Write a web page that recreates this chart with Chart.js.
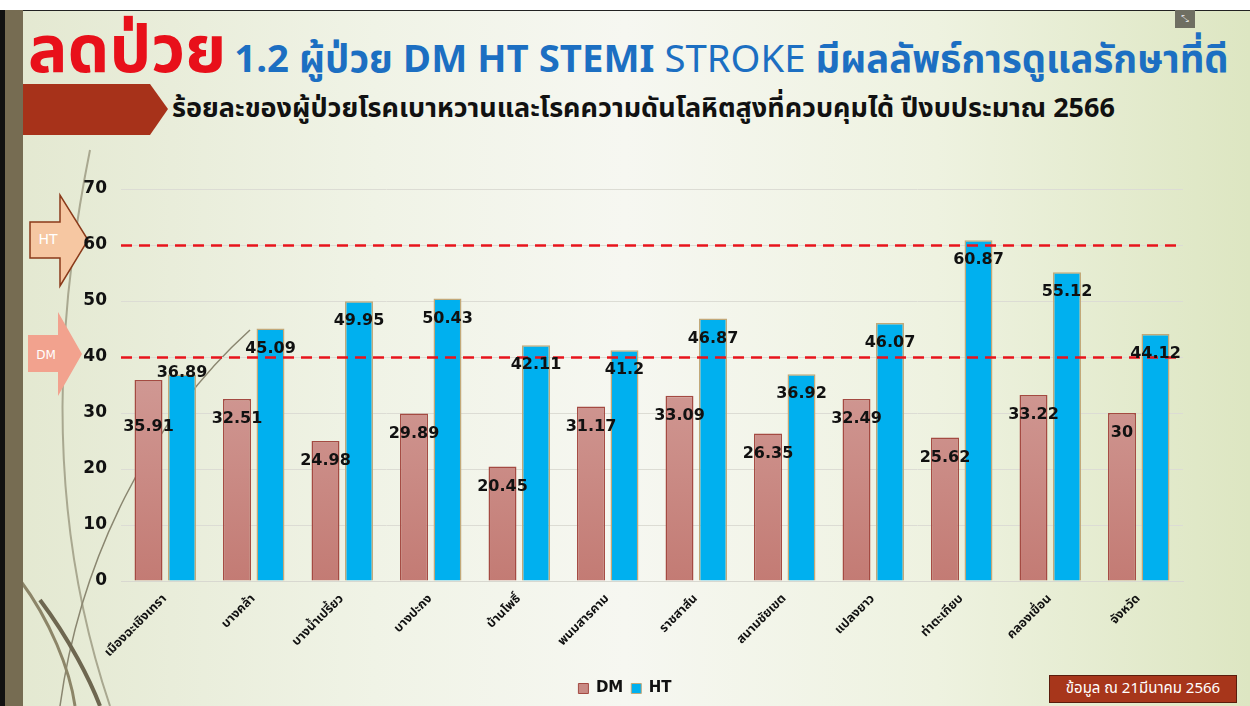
<!DOCTYPE html>
<html>
<head>
<meta charset="utf-8">
<script src="https://cdn.jsdelivr.net/npm/chart.js@4.4.1/dist/chart.umd.min.js"></script>
<style>
  html,body{margin:0;padding:0;}
  body{width:1250px;height:706px;position:relative;overflow:hidden;background:#fff;
       font-family:"Noto Sans Thai","Loma","Garuda","Tlwg Typo","Noto Sans","DejaVu Sans",sans-serif;}
  #slide{position:absolute;left:0;top:10px;width:1250px;height:696px;
    background:linear-gradient(to right,#e3e8d0 0%,#f0f3e6 30%,#f6f7f1 50%,#eef2e0 75%,#dde6c2 100%);
    border-top:1px solid #222;}
  #blk{position:absolute;left:0;top:10px;width:5px;height:696px;background:#111;}
  #strip{position:absolute;left:5px;top:10px;width:18px;height:696px;background:#766c52;}
  #title{position:absolute;left:28px;top:2px;white-space:nowrap;}
  #title .big{color:#e8101a;font-weight:bold;font-size:66px;}
  #title .rest{color:#1c6fc2;font-weight:bold;font-size:38.3px;margin-left:8px;}
  #title .thin{font-weight:normal;}
  #sub{position:absolute;left:172px;top:88px;font-size:27px;font-weight:bold;color:#111;white-space:nowrap;}
  #foot{position:absolute;left:1049px;top:675px;width:186px;height:26px;background:#a7361b;border:1px solid #5a1c0c;
        color:#fff;font-size:15px;line-height:26px;text-align:center;white-space:nowrap;}
  #icon{position:absolute;left:1175px;top:10px;width:20px;height:18px;background:#6f6f62;color:#ddd;font-size:10px;text-align:center;line-height:18px;}
  #chart{position:absolute;left:0;top:0;}
  svg.deco{position:absolute;left:0;top:0;}
</style>
</head>
<body>
<div id="slide"></div>
<svg class="deco" width="1250" height="706">
  <path d="M 90 150 C 60 300, 40 500, 110 706" stroke="#a9a890" stroke-width="2" fill="none"/>
  <path d="M 250 330 C 150 420, 80 560, 60 706" stroke="#8a8670" stroke-width="1.5" fill="none"/>
  <path d="M 40 600 C 70 640, 90 680, 100 706" stroke="#6e6750" stroke-width="4" fill="none"/>
  <path d="M 20 580 C 50 620, 70 670, 75 706" stroke="#8c8568" stroke-width="3" fill="none"/>
  <polygon points="5,84 150,84 168,109 150,135 5,135" fill="#a7321a"/>
  <polygon points="30,222 60,222 60,195 88,240 60,286 60,258 30,258" fill="#f6c7a2" stroke="#8a3a1a" stroke-width="1.5"/>
  <text x="48" y="244" font-size="14" fill="#fff" text-anchor="middle" font-family="DejaVu Sans">HT</text>
  <polygon points="28,335 58,335 58,312 82,354 58,396 58,372 28,372" fill="#f2a28e"/>
  <text x="46" y="359" font-size="12" fill="#fff" text-anchor="middle" font-family="DejaVu Sans">DM</text>
</svg>
<div id="blk"></div>
<div id="strip"></div>
<div id="icon">⤡</div>
<div id="title"><span class="big">ลดป่วย</span><span class="rest">1.2 ผู้ป่วย DM HT STEMI <span class="thin">STROKE</span> มีผลลัพธ์การดูแลรักษาที่ดี</span></div>
<div id="sub">ร้อยละของผู้ป่วยโรคเบาหวานและโรคความดันโลหิตสูงที่ควบคุมได้ ปีงบประมาณ 2566</div>
<div id="foot">ข้อมูล ณ 21มีนาคม 2566</div>
<canvas id="chart" width="1250" height="706"></canvas>
<script>
const categories = ["เมืองฉะเชิงเทรา","บางคล้า","บางน้ำเปรี้ยว","บางปะกง","บ้านโพธิ์","พนมสารคาม","ราชสาส์น","สนามชัยเขต","แปลงยาว","ท่าตะเกียบ","คลองเขื่อน","จังหวัด"];
const dmValues = [35.91,32.51,24.98,29.89,20.45,31.17,33.09,26.35,32.49,25.62,33.22,30];
const htValues = [36.89,45.09,49.95,50.43,42.11,41.2,46.87,36.92,46.07,60.87,55.12,44.12];
const seriesNames = ["DM","HT"];
const targetLines = [60,40];
const yTicks = [0,10,20,30,40,50,60,70];

const thaiFont = '"Noto Sans Thai","Loma","Garuda","Tlwg Typo","DejaVu Sans",sans-serif';

function dmGradient(ctx){
  const c = ctx.chart; const a = c.chartArea;
  if(!a) return '#c98a84';
  const g = c.ctx.createLinearGradient(0,a.top+100,0,a.bottom);
  g.addColorStop(0,'#d6a5a1'); g.addColorStop(1,'#c37b74');
  return g;
}

const overlay = {
  id:'overlay',
  afterDatasetsDraw(chart){
    const {ctx, chartArea:a, scales:{y}} = chart;
    ctx.save();
    ctx.strokeStyle='#e8141c'; ctx.lineWidth=2.5; ctx.setLineDash([11,7]);
    targetLines.forEach(v=>{
      const py = Math.round(y.getPixelForValue(v))+0.5;
      ctx.beginPath(); ctx.moveTo(a.left,py); ctx.lineTo(a.right,py); ctx.stroke();
    });
    ctx.setLineDash([]);
    ctx.fillStyle='#111'; ctx.font='bold 16px "DejaVu Sans", sans-serif';
    ctx.textAlign='center'; ctx.textBaseline='middle';
    const dmMeta = chart.getDatasetMeta(0).data, htMeta = chart.getDatasetMeta(1).data;
    dmMeta.forEach((dmBar,j)=>{
      const htBar = htMeta[j];
      let dmY = dmBar.y + 20, htY = htBar.y + 20;
      if (Math.abs(dmY - htY) < 20) { htY = htBar.y - 2; dmY = dmBar.y + 47; }
      ctx.fillText(String(dmValues[j]), dmBar.x, dmY);
      ctx.fillText(String(htValues[j]), htBar.x, htY);
    });
    ctx.restore();
  }
};

new Chart(document.getElementById('chart'),{
  type:'bar',
  data:{
    labels:categories,
    datasets:[
      {label:seriesNames[0],data:dmValues,backgroundColor:dmGradient,borderColor:'#a44a42',borderWidth:1.5,
       categoryPercentage:0.757,barPercentage:0.835},
      {label:seriesNames[1],data:htValues,backgroundColor:'#00b0ef',borderColor:'#c2a878',borderWidth:1.5,
       categoryPercentage:0.757,barPercentage:0.835}
    ]
  },
  options:{
    responsive:false, animation:false,
    layout:{padding:{left:67,right:67,top:189,bottom:0}},
    scales:{
      x:{
        grid:{display:false},
        border:{color:'#d8d8d0'},
        ticks:{minRotation:45,maxRotation:45,color:'#111',font:{family:thaiFont,size:12.5,weight:'bold'},padding:3},
        afterFit(s){ s.height = 92; }
      },
      y:{
        min:0,max:70,
        afterBuildTicks(s){ s.ticks = yTicks.map(v=>({value:v})); },
        grid:{color:'#dcdcd4',lineWidth:1,drawTicks:false},
        border:{display:false},
        ticks:{color:'#111',font:{family:'"DejaVu Sans",sans-serif',size:17,weight:'bold'},padding:14},
        afterFit(s){ s.width = 54; }
      }
    },
    plugins:{
      legend:{position:'bottom',labels:{color:'#111',boxWidth:10,boxHeight:10,padding:8,
        font:{family:'"DejaVu Sans",sans-serif',size:15,weight:'bold'},
        generateLabels(chart){
          return chart.data.datasets.map((d,i)=>({text:d.label,fillStyle:i===0?'#c98a84':'#00b0ef',strokeStyle:i===0?'#a44a42':'#c2a878',lineWidth:1,datasetIndex:i,fontColor:'#111'}));
        }}},
      tooltip:{enabled:false}
    }
  },
  plugins:[overlay]
});
</script>
</body>
</html>
